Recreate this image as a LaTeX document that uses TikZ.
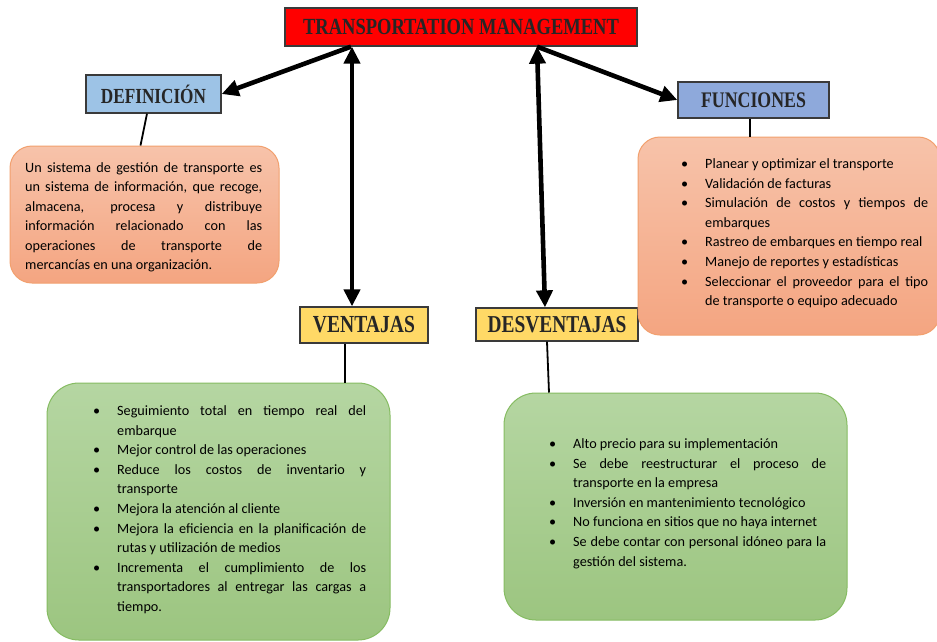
\documentclass[tikz,border=0pt]{standalone}
\usepackage{fontspec}
\setmainfont{Carlito}
\newfontfamily\headfont{Liberation Serif}[BoldFont={* Bold}]
\usepackage{graphicx}
\usetikzlibrary{arrows.meta}

\definecolor{titlered}{HTML}{FF0000}
\definecolor{defblue}{HTML}{9DC3E6}
\definecolor{funblue}{HTML}{8EA9DB}
\definecolor{gold}{HTML}{FFD966}
\definecolor{salmontop}{HTML}{F7C3AA}
\definecolor{salmonbot}{HTML}{F4A581}
\definecolor{salmonedge}{HTML}{F2A06E}
\definecolor{greentop}{HTML}{B5D6A2}
\definecolor{greenbot}{HTML}{9CC580}
\definecolor{greenedge}{HTML}{86BC62}
\definecolor{edgegray}{HTML}{3A3A3A}

% first-line strut: baseline sits 12pt below the top of a text block
\newcommand\lstrut{\rule{0pt}{12pt}}
% one bulleted item, bullet hung in the left margin
\newcommand\itm[1]{\par\noindent\lstrut\llap{\textbullet\hspace{17pt}}#1}
% heading text: bold serif capitals, stretched upright
\newcommand\headtxt[2]{{\headfont\bfseries\fontsize{#1}{#1}\selectfont\scalebox{1}[1.25]{#2}}}

\tikzset{
  heading/.style={draw=edgegray, line width=1.3pt, inner sep=0pt, text=black!85},
  salmonbox/.style={draw=salmonedge, line width=1pt, rounded corners=22pt,
    top color=salmontop, bottom color=salmonbot},
  greenbox/.style={draw=greenedge, line width=1pt, rounded corners=32pt,
    top color=greentop, bottom color=greenbot},
  bodytext/.style={anchor=north west, inner sep=0pt, align=justify,
    font=\fontsize{14.2}{19.55}\selectfont,
    execute at begin node={\hyphenpenalty=10000\exhyphenpenalty=10000\parindent=0pt\hbadness=10000\hfuzz=12pt}},
  bigarrow/.style={line width=4.6pt, -{Triangle[length=17pt,width=16pt]}},
  dblarrow/.style={line width=4.6pt, {Triangle[length=17pt,width=16pt]}-{Triangle[length=17pt,width=16pt]}},
  link/.style={line width=1.8pt, black}
}

\begin{document}
\begin{tikzpicture}[x=1pt, y=-1pt]
\useasboundingbox (0,0) rectangle (937,641);
\clip (0,0) rectangle (937,641);
\fill[white] (0,0) rectangle (937,641);

% ---- headings ----
\node[heading, fill=titlered, minimum width=352pt, minimum height=38pt] (title) at (461,27)
  {\headtxt{18.5}{TRANSPORTATION MANAGEMENT}};
\node[heading, fill=defblue, minimum width=135pt, minimum height=38pt] (def) at (153.5,94)
  {\headtxt{17.2}{DEFINICIÓN}};
\node[heading, fill=funblue, minimum width=151pt, minimum height=36pt] (fun) at (753.5,100)
  {\headtxt{17.8}{FUNCIONES}};
\node[heading, fill=gold, minimum width=128pt, minimum height=36pt] (vent) at (364,325)
  {\headtxt{19.6}{VENTAJAS}};
\node[heading, fill=gold, minimum width=162pt, minimum height=33pt] (desv) at (557,324.5)
  {\headtxt{19.4}{DESVENTAJAS}};

% ---- content boxes ----
\node[salmonbox, minimum width=269pt, minimum height=137pt] (defbox) at (144.5,214.5) {};
\node[salmonbox, minimum width=302pt, minimum height=198pt] (funbox) at (789,236) {};
\node[greenbox, minimum width=343pt, minimum height=257pt] (ventbox) at (218.5,511.5) {};
\node[greenbox, minimum width=343pt, minimum height=227pt] (desvbox) at (675.5,506.5) {};

% ---- box texts ----
\node[bodytext, text width=237pt] (deftext) at (25,160) {%
\lstrut Un sistema de gestión de transporte es\linebreak
un sistema de información, que recoge,\linebreak
almacena, procesa y distribuye\linebreak
información relacionado con las\linebreak
operaciones de transporte de\linebreak
mercancías en una organización.};

\node[bodytext, text width=223pt] (funtext) at (705,149) {%
\itm{Planear y optimizar el transporte}
\itm{Validación de facturas}
\itm{Simulación de costos y tiempos de\linebreak embarques}
\itm{Rastreo de embarques en tiempo real}
\itm{Manejo de reportes y estadísticas}
\itm{Seleccionar el proveedor para el tipo\linebreak de transporte o equipo adecuado}};

\node[bodytext, text width=249pt] (venttext) at (117,396) {%
\itm{Seguimiento total en tiempo real del\linebreak embarque}
\itm{Mejor control de las operaciones}
\itm{Reduce los costos de inventario y\linebreak transporte}
\itm{Mejora la atención al cliente}
\itm{Mejora la eficiencia en la planificación de\linebreak rutas y utilización de medios}
\itm{Incrementa el cumplimiento de los\linebreak transportadores al entregar las cargas a\linebreak tiempo.}};

\node[bodytext, text width=253pt] (desvtext) at (573,429) {%
\itm{Alto precio para su implementación}
\itm{Se debe reestructurar el proceso de\linebreak transporte en la empresa}
\itm{Inversión en mantenimiento tecnológico}
\itm{No funciona en sitios que no haya internet}
\itm{Se debe contar con personal idóneo para la\linebreak gestión del sistema.}};

% ---- heading-to-box links ----
\draw[link] ([xshift=-6.5pt]def.south) -- ([xshift=-4pt]defbox.north);
\draw[link] ([xshift=-3.5pt]fun.south) -- ([xshift=-39pt]funbox.north);
\draw[link] ([xshift=-19pt]vent.south) -- ([xshift=126.5pt]ventbox.north);
\draw[link] ([xshift=-10pt]desv.south) -- ([xshift=-126.5pt]desvbox.north);

% ---- arrows from the title ----
\coordinate (tl) at ([xshift=-110pt]title.south);
\coordinate (tr) at ([xshift=76pt]title.south);
\draw[bigarrow] (tl) -- (def.east);
\draw[bigarrow] (tr) -- (fun.west);
\draw[dblarrow] ([xshift=-109pt]title.south) -- ([xshift=-12pt]vent.north);
\draw[dblarrow] ([xshift=76pt]title.south) -- ([xshift=-12pt]desv.north);
\end{tikzpicture}
\end{document}
